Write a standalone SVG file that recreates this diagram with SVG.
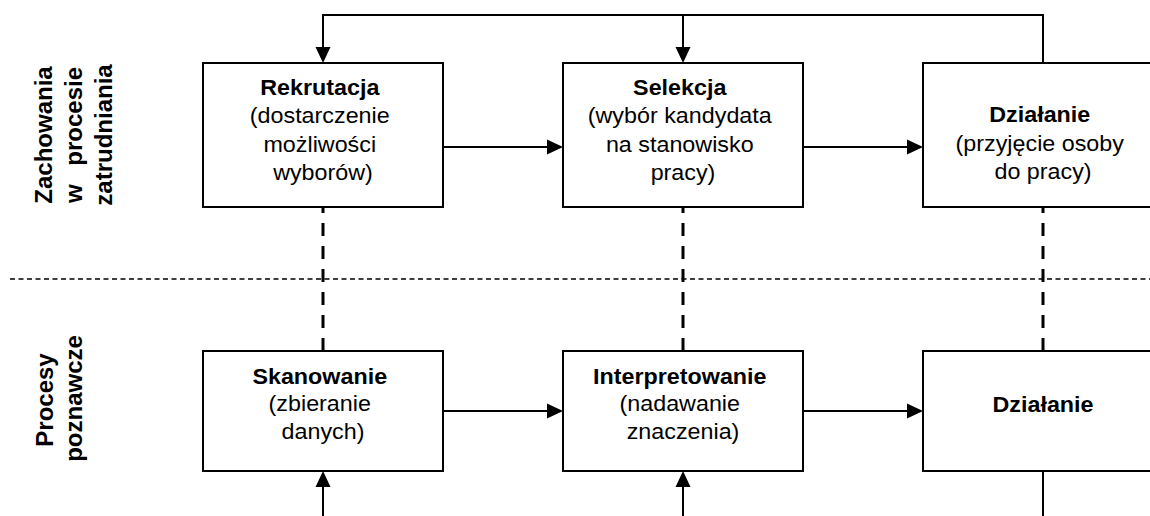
<svg xmlns="http://www.w3.org/2000/svg" width="1150" height="516" viewBox="0 0 1150 516">
  <style>
    .box { fill: #ffffff; stroke: #000000; stroke-width: 2; }
    .wire { fill: none; stroke: #000000; stroke-width: 2; }
    .link { fill: none; stroke: #000000; stroke-width: 3; stroke-dasharray: 13 10; }
    .divider { fill: none; stroke: #000000; stroke-width: 1.3; stroke-dasharray: 5 3.5; }
    text { font-family: "Liberation Sans", Arial, sans-serif; fill: #000000; }
    .node { font-size: 22px; text-anchor: middle; }
    .title { font-weight: bold; }
    .lane { font-size: 24px; font-weight: bold; }
  </style>
  <defs>
    <marker id="arrow" viewBox="0 0 16 16" markerWidth="16" markerHeight="16" refX="8" refY="8" orient="auto" markerUnits="userSpaceOnUse">
      <path d="M0,0.5 L16,8 L0,15.5 z" fill="#000000"/>
    </marker>
  </defs>

  <rect width="1150" height="516" fill="#ffffff"/>

  <!-- lane labels -->
  <g id="lane-zatrudnianie">
    <text class="lane" text-anchor="middle" transform="translate(52 135) rotate(-90)">Zachowania</text>
    <text class="lane" transform="translate(82 135) rotate(-90)"><tspan x="-68" y="0">w</tspan><tspan x="68" y="0" text-anchor="end">procesie</tspan></text>
    <text class="lane" text-anchor="middle" transform="translate(111.5 135) rotate(-90)">zatrudniania</text>
  </g>
  <g id="lane-poznawcze">
    <text class="lane" text-anchor="middle" transform="translate(53 400) rotate(-90)">Procesy</text>
    <text class="lane" text-anchor="middle" transform="translate(82 398.5) rotate(-90)">poznawcze</text>
  </g>

  <!-- lane divider and vertical links between levels -->
  <g id="connectors">
    <path class="divider" d="M10 279 H1150"/>
    <path class="link" d="M323 351 V207"/>
    <path class="link" d="M683 351 V207"/>
    <path class="link" d="M1043 351 V207"/>

    <!-- feedback loop over the top row -->
    <path class="wire" d="M1043 63 V15 H323 V55" marker-end="url(#arrow)"/>
    <path class="wire" d="M683 15 V55" marker-end="url(#arrow)"/>

    <!-- flow along the rows -->
    <path class="wire" d="M443 147 H555" marker-end="url(#arrow)"/>
    <path class="wire" d="M803 147 H915" marker-end="url(#arrow)"/>
    <path class="wire" d="M443 411 H555" marker-end="url(#arrow)"/>
    <path class="wire" d="M803 411 H915" marker-end="url(#arrow)"/>

    <!-- inputs from below -->
    <path class="wire" d="M323 516 V479" marker-end="url(#arrow)"/>
    <path class="wire" d="M683 516 V479" marker-end="url(#arrow)"/>
    <path class="wire" d="M1043 471 V516"/>
  </g>

  <!-- top row -->
  <g id="rekrutacja">
    <rect class="box" x="203" y="63" width="240" height="144"/>
    <text class="node" transform="translate(323 0) scale(1.06 1)">
      <tspan class="title" x="0" y="95">Rekrutacja</tspan>
      <tspan x="0" y="123.3">(dostarczenie</tspan>
      <tspan x="0" y="151.6">możliwości</tspan>
      <tspan x="0" y="180">wyborów)</tspan>
    </text>
  </g>
  <g id="selekcja">
    <rect class="box" x="563" y="63" width="240" height="144"/>
    <text class="node" transform="translate(683 0) scale(1.06 1)">
      <tspan class="title" x="0" y="95">Selekcja</tspan>
      <tspan x="0" y="123.3">(wybór kandydata</tspan>
      <tspan x="0" y="151.6">na stanowisko</tspan>
      <tspan x="0" y="180">pracy)</tspan>
    </text>
  </g>
  <g id="dzialanie-zatrudnienie">
    <rect class="box" x="923" y="63" width="240" height="144"/>
    <text class="node" transform="translate(1043 0) scale(1.06 1)">
      <tspan class="title" x="0" y="122.5">Działanie</tspan>
      <tspan x="0" y="150.8">(przyjęcie osoby</tspan>
      <tspan x="0" y="179">do pracy)</tspan>
    </text>
  </g>

  <!-- bottom row -->
  <g id="skanowanie">
    <rect class="box" x="203" y="351" width="240" height="120"/>
    <text class="node" transform="translate(323 0) scale(1.06 1)">
      <tspan class="title" x="0" y="384">Skanowanie</tspan>
      <tspan x="0" y="411.5">(zbieranie</tspan>
      <tspan x="0" y="439">danych)</tspan>
    </text>
  </g>
  <g id="interpretowanie">
    <rect class="box" x="563" y="351" width="240" height="120"/>
    <text class="node" transform="translate(683 0) scale(1.06 1)">
      <tspan class="title" x="0" y="384">Interpretowanie</tspan>
      <tspan x="0" y="411.5">(nadawanie</tspan>
      <tspan x="0" y="439">znaczenia)</tspan>
    </text>
  </g>
  <g id="dzialanie-poznawcze">
    <rect class="box" x="923" y="351" width="240" height="120"/>
    <text class="node title" transform="translate(1043 0) scale(1.06 1)" x="0" y="412.5">Działanie</text>
  </g>
</svg>
